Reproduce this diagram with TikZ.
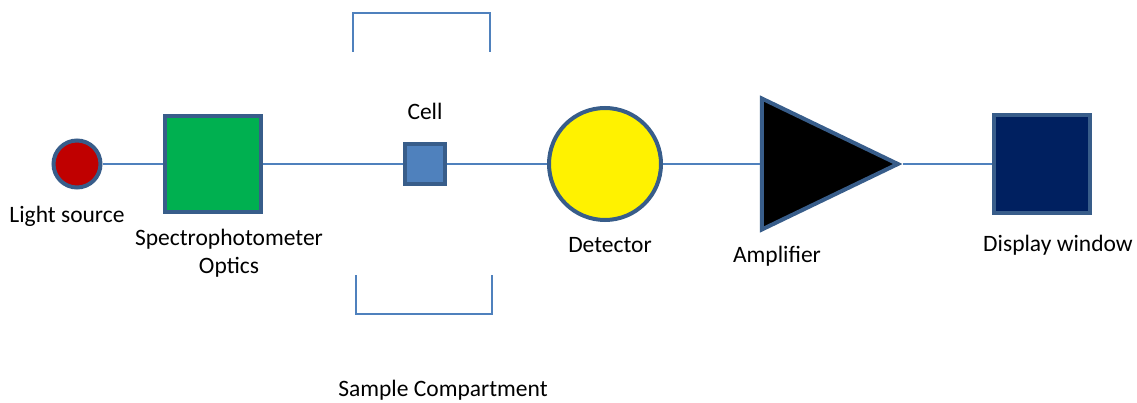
\documentclass[tikz,border=0pt]{standalone}
\usepackage{fontspec}
\setmainfont{Carlito}
\usepackage{xcolor}
\usepackage{tikz}
\usetikzlibrary{shapes.geometric}

\definecolor{rimblue}{HTML}{385D8A}
\definecolor{lineblue}{HTML}{4F81BD}
\definecolor{srcred}{HTML}{C00000}
\definecolor{optgreen}{HTML}{00B050}
\definecolor{dispnavy}{HTML}{002060}

\begin{document}
\begin{tikzpicture}[x=1pt, y=-1pt, node distance=52pt,
  part/.style={draw=rimblue, line width=4pt, inner sep=0pt},
  lbl/.style={font=\fontsize{23.5}{28}\selectfont, align=center},
  beam/.style={draw=lineblue, line width=2pt}]
\useasboundingbox (0,0) rectangle (1137,403);

\node (src) [part, circle, fill=srcred, minimum size=47pt] at (77,164) {};
\node (optics) [part, rectangle, fill=optgreen, minimum size=96pt] at (213,164) {};
\node (cell) [part, rectangle, fill=lineblue, minimum size=40pt] at (425,164) {};
\node (det) [part, circle, fill=yellow, minimum size=112pt] at (605,164) {};
\node (amp) [part, isosceles triangle, isosceles triangle stretches, fill=black,
  minimum width=131pt, minimum height=136pt] at (803,164) {};
\node (disp) [part, rectangle, fill=dispnavy, minimum width=96pt, minimum height=98pt] at (1042,164) {};

\node (srclbl) [lbl, below of=src, xshift=-10pt] {Light source};
\node (opticslbl) [lbl, below of=optics, node distance=89pt, xshift=16pt] {Spectrophotometer\\Optics};
\node (celllbl) [lbl, above of=cell, node distance=53pt] {Cell};
\node (detlbl) [lbl, below of=det, node distance=81pt, xshift=5pt] {Detector};
\node (amplbl) [lbl, below of=amp, node distance=92pt, xshift=-26pt] {Amplifier};
\node (displbl) [lbl, below of=disp, node distance=81pt, xshift=16pt] {Display window};
\node (samplbl) [lbl, below of=cell, node distance=226pt, xshift=18pt] {Sample Compartment};

\draw [beam] (src) -- (optics);
\draw [beam] (optics) -- (cell);
\draw [beam] (cell) -- (det);
\draw [beam] (det) -- (amp);
\draw [beam] (amp) -- (disp);

\draw [lineblue, line width=2.5pt] (353,52) -- (353,13) -- (490,13) -- (490,52);
\draw [lineblue, line width=2.5pt] (356,275) -- (356,314) -- (492,314) -- (492,275);
\end{tikzpicture}
\end{document}
